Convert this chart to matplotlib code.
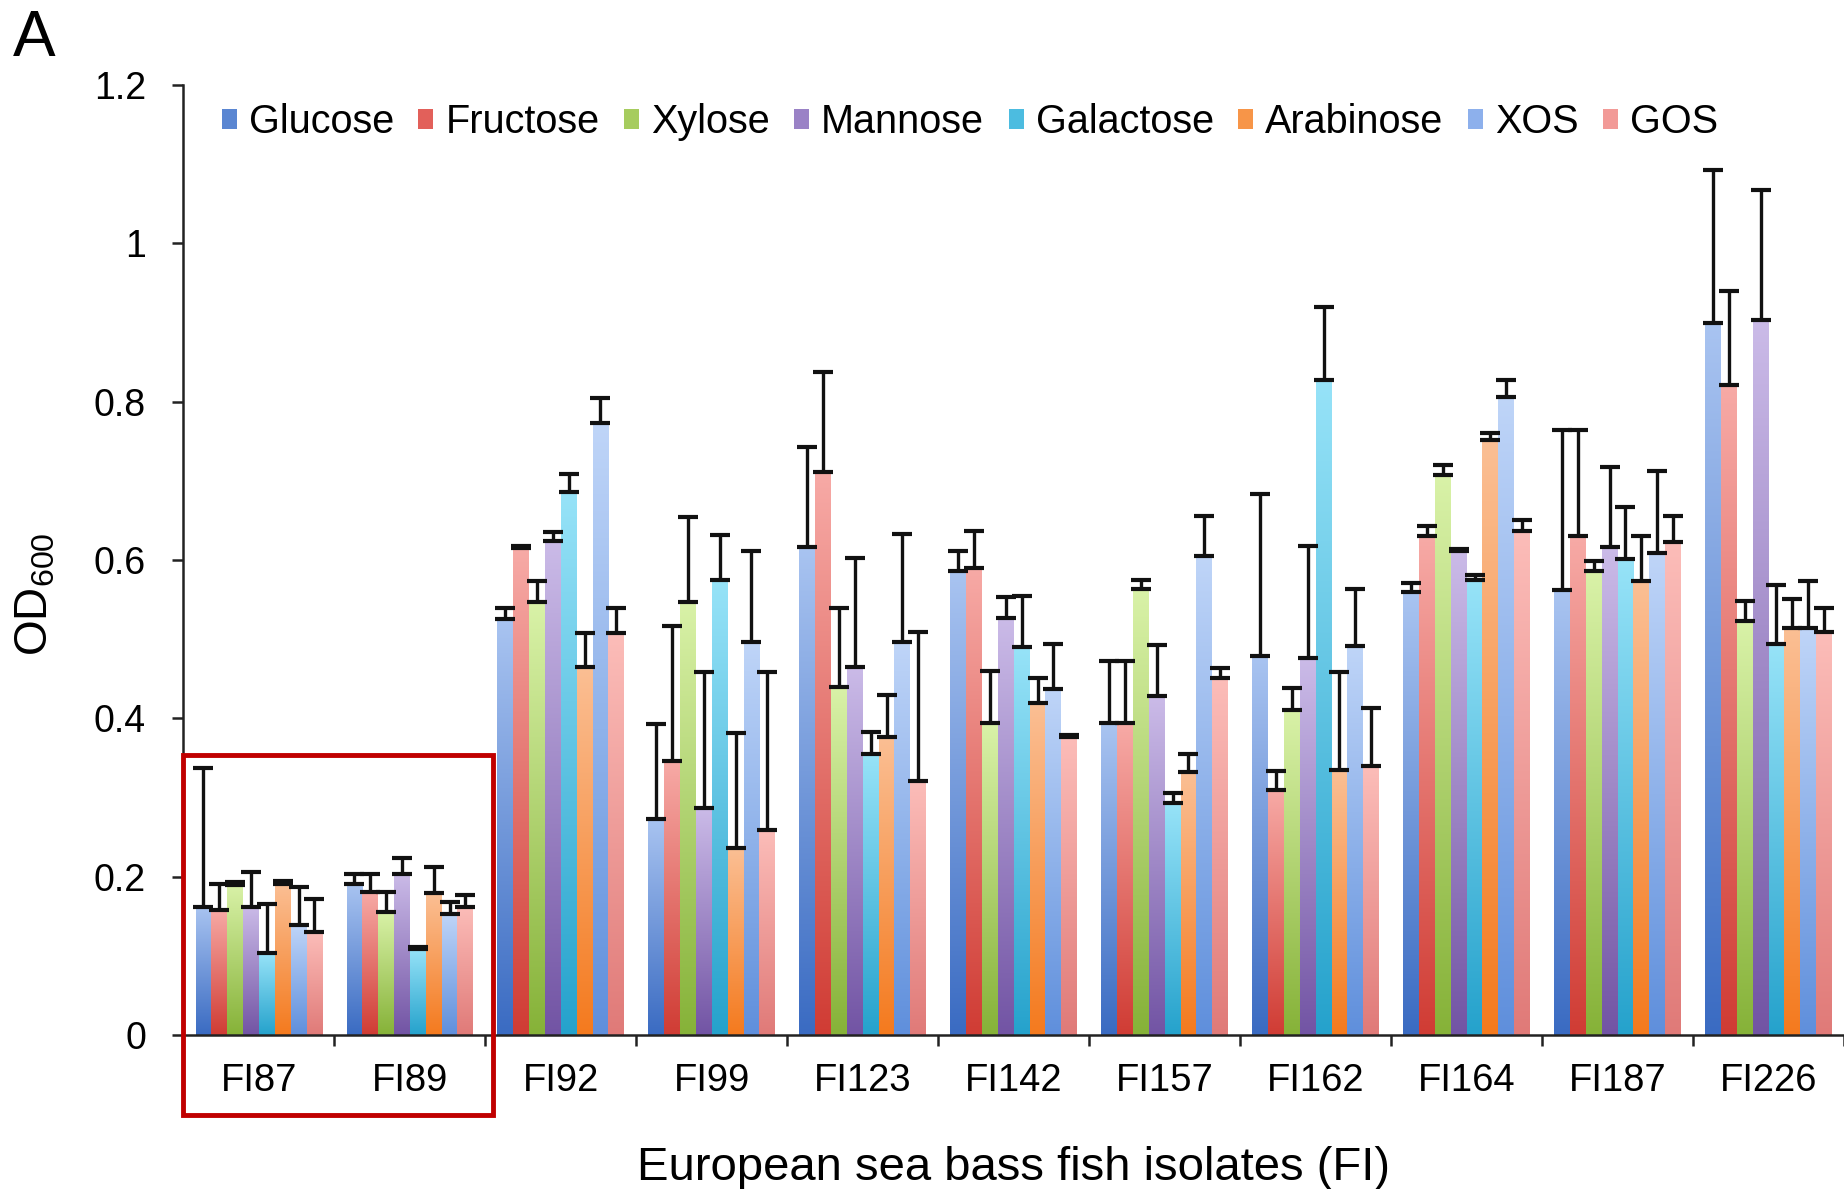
import numpy as np
import matplotlib.pyplot as plt
from matplotlib.colors import LinearSegmentedColormap
from matplotlib.patches import Rectangle, Patch

plt.rcParams['font.family'] = ['Liberation Sans', 'DejaVu Sans']
plt.rcParams['mathtext.default'] = 'regular'

# ------------------ DATA ------------------

isolates = ['FI87', 'FI89', 'FI92', 'FI99', 'FI123', 'FI142', 'FI157', 'FI162', 'FI164', 'FI187', 'FI226']
sugars = ['Glucose', 'Fructose', 'Xylose', 'Mannose', 'Galactose', 'Arabinose', 'XOS', 'GOS']

# mean OD600 per sugar, in isolate order
glucose   = [0.162, 0.191, 0.525, 0.273, 0.617, 0.586, 0.394, 0.479, 0.560, 0.562, 0.900]
fructose  = [0.158, 0.181, 0.615, 0.346, 0.711, 0.590, 0.394, 0.310, 0.630, 0.630, 0.821]
xylose    = [0.190, 0.156, 0.547, 0.547, 0.440, 0.394, 0.564, 0.411, 0.707, 0.586, 0.523]
mannose   = [0.162, 0.204, 0.624, 0.287, 0.465, 0.527, 0.428, 0.476, 0.612, 0.617, 0.903]
galactose = [0.103, 0.109, 0.686, 0.575, 0.355, 0.490, 0.293, 0.828, 0.575, 0.601, 0.494]
arabinose = [0.191, 0.179, 0.465, 0.236, 0.377, 0.420, 0.332, 0.335, 0.751, 0.573, 0.514]
xos       = [0.139, 0.153, 0.773, 0.496, 0.496, 0.437, 0.605, 0.492, 0.806, 0.609, 0.514]
gos       = [0.130, 0.162, 0.508, 0.259, 0.321, 0.377, 0.451, 0.340, 0.637, 0.623, 0.509]

# standard deviations (upper error bars only)
glucose_sd   = [0.175, 0.013, 0.015, 0.120, 0.126, 0.025, 0.079, 0.205, 0.011, 0.202, 0.193]
fructose_sd  = [0.033, 0.023, 0.003, 0.171, 0.127, 0.047, 0.079, 0.024, 0.013, 0.134, 0.119]
xylose_sd    = [0.003, 0.025, 0.026, 0.107, 0.100, 0.066, 0.011, 0.027, 0.013, 0.013, 0.025]
mannose_sd   = [0.044, 0.019, 0.012, 0.172, 0.138, 0.026, 0.065, 0.142, 0.002, 0.100, 0.165]
galactose_sd = [0.063, 0.002, 0.023, 0.057, 0.028, 0.065, 0.013, 0.092, 0.006, 0.066, 0.074]
arabinose_sd = [0.003, 0.033, 0.043, 0.145, 0.052, 0.031, 0.023, 0.123, 0.010, 0.057, 0.037]
xos_sd       = [0.048, 0.015, 0.032, 0.116, 0.137, 0.057, 0.051, 0.072, 0.021, 0.103, 0.059]
gos_sd       = [0.042, 0.015, 0.032, 0.199, 0.188, 0.002, 0.013, 0.073, 0.014, 0.033, 0.031]

means = [glucose, fructose, xylose, mannose, galactose, arabinose, xos, gos]
sds = [glucose_sd, fructose_sd, xylose_sd, mannose_sd, galactose_sd, arabinose_sd, xos_sd, gos_sd]

# gradient colours (bottom, top)
grads = [('#3a6bc2', '#a9c4f1'),
         ('#d03c34', '#f7aaa6'),
         ('#86b238', '#d9f2a8'),
         ('#7254a4', '#cbbbe8'),
         ('#25a2cc', '#97e3f8'),
         ('#f47a1e', '#fbbf94'),
         ('#5f8fdc', '#bfd5f8'),
         ('#e07a78', '#fcbdb9')]
legend_colors = ['#5a86d2', '#e2605a', '#a6cc5e', '#9a82c6', '#4cbce0', '#f79548', '#8db0ec', '#f29a97']

# ------------------ PLOT ------------------

fig = plt.figure(figsize=(18.44, 11.89), dpi=100)
ax = fig.add_axes([0.0995, 0.1295, 0.9005, 0.799])

n = len(sugars)
bw = 0.105
x = np.arange(len(isolates))
grad = np.linspace(0, 1, 256).reshape(-1, 1)

for k in range(n):
    pos = x + (k - (n - 1) / 2) * bw
    bars = ax.bar(pos, means[k], bw, color='none', edgecolor='none')
    cmap = LinearSegmentedColormap.from_list(sugars[k], list(grads[k]))
    for b in bars:
        ax.imshow(grad, extent=[b.get_x(), b.get_x() + b.get_width(), 0, b.get_height()],
                  origin='lower', aspect='auto', cmap=cmap, zorder=2)
    ax.errorbar(pos, means[k], yerr=[np.zeros(len(x)), sds[k]], fmt='none', ecolor='#111111',
                elinewidth=2.4, capsize=7.5, capthick=3, zorder=3)

ax.set_xlim(-0.5, 10.34)
ax.set_ylim(0, 1.2)

for s in ['top', 'right']:
    ax.spines[s].set_visible(False)
for s in ['left', 'bottom']:
    ax.spines[s].set_linewidth(1.8)
    ax.spines[s].set_color('#222222')

ax.set_yticks([0, 0.2, 0.4, 0.6, 0.8, 1.0, 1.2])
ax.set_yticklabels(['0', '0.2', '0.4', '0.6', '0.8', '1', '1.2'])
ax.tick_params(axis='y', length=8, width=1.8, pad=19, labelsize=27, color='#222222')

ax.set_xticks(np.arange(-0.5, 11, 1))
ax.set_xticklabels([])
ax.set_xticks(x, minor=True)
ax.set_xticklabels(isolates, minor=True)
ax.tick_params(axis='x', which='major', length=8, width=1.8, color='#222222')
ax.tick_params(axis='x', which='minor', length=0, pad=20, labelsize=27.5)

ax.set_xlabel('European sea bass fish isolates (FI)', fontsize=34, labelpad=34)

fig.text(0.019, 0.50, 'OD$_{600}$', rotation=90, fontsize=33, ha='center', va='center')
fig.text(0.007, 0.967, 'A', fontsize=46, ha='left', va='center')

handles = [Patch(facecolor=c, edgecolor='none') for c in legend_colors]
ax.legend(handles, sugars, loc='center left', bbox_to_anchor=(0.023, 0.961), ncol=8,
          frameon=False, fontsize=28.5, handlelength=0.38, handleheight=0.38,
          handletextpad=0.3, columnspacing=0.62, borderaxespad=0, borderpad=0)

# highlight box around FI87/FI89
ax.add_patch(Rectangle((-0.5, -0.101), 2.05, 0.455, fill=False, edgecolor='#c00000',
                       linewidth=3.5, clip_on=False, zorder=5))

plt.savefig('out.png', dpi=100)
